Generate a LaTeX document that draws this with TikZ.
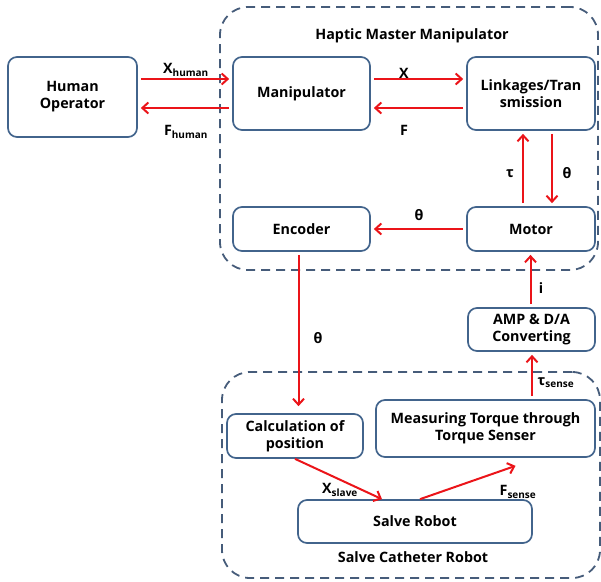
\documentclass[tikz,border=0pt]{standalone}
\usepackage{fontspec}
\setmainfont{Open Sans}
\usetikzlibrary{arrows.meta}
\definecolor{boxblue}{RGB}{66,100,140}
\definecolor{dashblue}{RGB}{70,92,122}
\definecolor{sigred}{RGB}{235,20,25}
\begin{document}
\begin{tikzpicture}[x=1pt, y=-1pt,
   every node/.style={font=\bfseries\fontsize{14.3}{17}\selectfont, align=center, inner sep=1pt},
   block/.style={draw=boxblue, line width=1.7pt, rounded corners=9pt},
   group/.style={draw=dashblue, line width=1.8pt, dash pattern=on 9pt off 6pt, rounded corners=28pt},
   sig/.style={draw=sigred, line width=2pt, -{Straight Barb[length=6pt,width=11pt]}, shorten >=3pt, shorten <=3pt}]
\useasboundingbox (0,0) rectangle (601,581);

% groups
\node[group, minimum width=378pt, minimum height=263pt] (master) at (409,138.5) {};
\node (mastertitle) at (412,36) {Haptic Master Manipulator};
\node[group, minimum width=378pt, minimum height=206pt] (slave) at (411,475) {};
\node (slavetitle) at (413,557) {Salve Catheter Robot};

% blocks
\node[block, minimum width=129pt, minimum height=80pt] (human) at (72.5,97) {Human\\Operator};
\node[block, minimum width=137pt, minimum height=73pt] (manip) at (301.5,93.5) {Manipulator};
\node[block, minimum width=128pt, minimum height=73pt] (link) at (531,93.5) {Linkages/Tran\\smission};
\node[block, minimum width=137pt, minimum height=44pt] (enc) at (301.5,229) {Encoder};
\node[block, minimum width=128pt, minimum height=44pt] (motor) at (531,229) {Motor};
\node[block, minimum width=127pt, minimum height=43pt] (amp) at (531.5,329.5) {AMP \& D/A\\Converting};
\node[block, minimum width=136pt, minimum height=44pt] (calc) at (295,436) {Calculation of\\position};
\node[block, minimum width=219pt, minimum height=57pt] (meas) at (485.5,428.5) {Measuring Torque through\\Torque Senser};
\node[block, minimum width=234pt, minimum height=43pt] (robot) at (415,521.5) {Salve Robot};

% connectors
\draw[sig] ([yshift=14.5pt]manip.west -| human.east) -- ([yshift=14.5pt]manip.west);
\draw[sig] ([yshift=-14.5pt]manip.west) -- ([yshift=-14.5pt]manip.west -| human.east);
\draw[sig] ([yshift=14.5pt]manip.east) -- ([yshift=14.5pt]link.west);
\draw[sig] ([yshift=-14.5pt]link.west) -- ([yshift=-14.5pt]manip.east);
\draw[sig] ([xshift=-8pt]motor.north) -- ([xshift=-8pt]link.south);
\draw[sig] ([xshift=21pt]link.south) -- ([xshift=21pt]motor.north);
\draw[sig] (motor.west) -- (enc.west -| enc.east);
\draw[sig] ([xshift=-1pt]amp.north) -- ([xshift=-1pt]amp.north |- motor.south);
\draw[sig, shorten >=7pt] ([xshift=-3pt]enc.south) -- ([xshift=-3pt]enc.south |- calc.north);
\draw[sig] ([xshift=0.5pt]amp.south |- meas.north) -- ([xshift=0.5pt]amp.south);
\draw[sig, shorten >=0pt, shorten <=0pt] (calc.south) -- ([xshift=-33pt]robot.north);
\draw[sig, shorten >=0pt, shorten <=0pt] ([xshift=5pt]robot.north) -- ([xshift=30pt,yshift=-8pt]meas.south);

% labels
\node (lxhuman) at (186,70) {X\textsubscript{human}};
\node (lfhuman) at (186,132) {F\textsubscript{human}};
\node (lx) at (404,73) {X};
\node (lf) at (404,130) {F};
\node (ltau) at (510,174) {τ};
\node (ltheta) at (567,173) {θ};
\node (lthetam) at (419,215) {θ};
\node (li) at (541,288) {i};
\node (lthetae) at (318,338) {θ};
\node (ltausense) at (556,383) {τ\textsubscript{sense}};
\node (lxslave) at (340,490) {X\textsubscript{slave}};
\node (lfsense) at (518,492) {F\textsubscript{sense}};
\end{tikzpicture}
\end{document}
